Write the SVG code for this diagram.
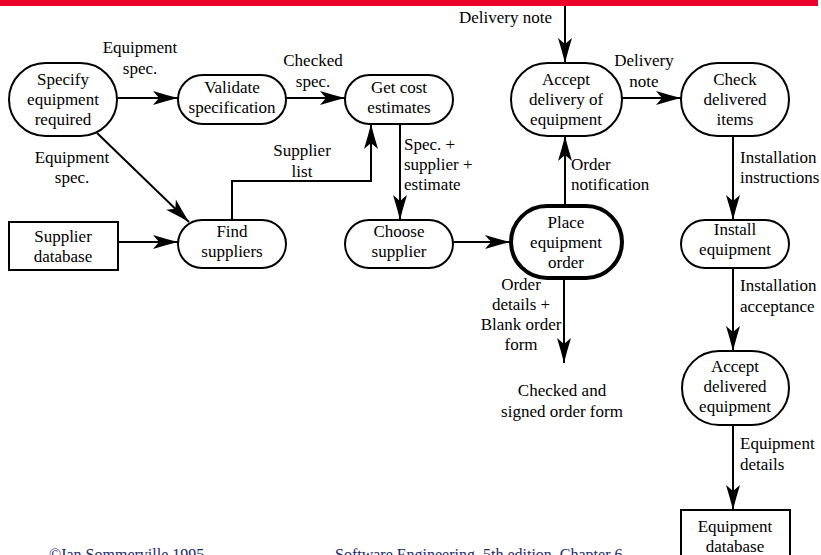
<svg xmlns="http://www.w3.org/2000/svg" width="821" height="555" viewBox="0 0 821 555" font-family="'Liberation Serif', 'DejaVu Serif', serif">
  <style>
    text { font-family: 'Liberation Serif', 'DejaVu Serif', serif; font-size: 17px; fill: #000; }
    .c { text-anchor: middle; }
    .node { fill: #fff; stroke: #000; stroke-width: 2; }
    .main { stroke-width: 4; }
    .flow { fill: none; stroke: #000; stroke-width: 2; marker-end: url(#arrow); }
    .foot { fill: #1c2a6b; font-size: 16px; }
  </style>
  <defs>
    <marker id="arrow" markerUnits="userSpaceOnUse" viewBox="-27 -8 28 16" markerWidth="28" markerHeight="16" refX="0" refY="0" orient="auto">
      <path d="M0,0 Q-12,-3 -25,-7 L-19,0 L-25,7 Q-12,3 0,0 Z" fill="#000"/>
    </marker>
  </defs>

  <rect x="0" y="0" width="818" height="6" fill="#ec0029"/>

  <!-- data flows -->
  <g id="connectors">
    <path class="flow" d="M117,98 H178"/>
    <path class="flow" d="M286,98 H345"/>
    <path class="flow" d="M97,133 L189,222"/>
    <path class="flow" d="M118,242 H178"/>
    <path class="flow" d="M232,220 V181 H371 V124"/>
    <path class="flow" d="M400,124 V220"/>
    <path class="flow" d="M453,242 H510"/>
    <path class="flow" d="M565,205 V136"/>
    <path class="flow" d="M565,6 V63"/>
    <path class="flow" d="M622,98 H681"/>
    <path class="flow" d="M733,136 V220"/>
    <path class="flow" d="M733,268 V351"/>
    <path class="flow" d="M733,425 V510"/>
    <path class="flow" d="M564,278 V363"/>
  </g>

  <!-- flow labels -->
  <g id="labels">
    <text class="c" x="140" y="53">Equipment</text>
    <text class="c" x="140" y="74">spec.</text>
    <text class="c" x="313" y="66">Checked</text>
    <text class="c" x="313" y="87">spec.</text>
    <text class="c" x="72" y="163">Equipment</text>
    <text class="c" x="72" y="183">spec.</text>
    <text class="c" x="302" y="156">Supplier</text>
    <text class="c" x="302" y="177">list</text>
    <text x="404" y="150">Spec. +</text>
    <text x="404" y="170">supplier +</text>
    <text x="404" y="190">estimate</text>
    <text x="459" y="23">Delivery note</text>
    <text class="c" x="644" y="66">Delivery</text>
    <text class="c" x="644" y="87">note</text>
    <text x="571" y="170">Order</text>
    <text x="571" y="190">notification</text>
    <text x="740" y="163">Installation</text>
    <text x="740" y="183">instructions</text>
    <text class="c" x="521" y="290">Order</text>
    <text class="c" x="521" y="310">details +</text>
    <text class="c" x="521" y="330">Blank order</text>
    <text class="c" x="521" y="350">form</text>
    <text x="740" y="291">Installation</text>
    <text x="740" y="312">acceptance</text>
    <text class="c" x="562" y="396">Checked and</text>
    <text class="c" x="562" y="417">signed order form</text>
    <text x="740" y="449">Equipment</text>
    <text x="740" y="470">details</text>
  </g>

  <g id="specify">
    <rect class="node" x="9" y="63" width="108" height="73" rx="36.5"/>
    <text class="c" x="63" y="85">Specify</text>
    <text class="c" x="63" y="105">equipment</text>
    <text class="c" x="63" y="125">required</text>
  </g>
  <g id="validate">
    <rect class="node" x="178" y="75" width="108" height="49" rx="24.5"/>
    <text class="c" x="232" y="93">Validate</text>
    <text class="c" x="232" y="113">specification</text>
  </g>
  <g id="estimates">
    <rect class="node" x="345" y="75" width="108" height="49" rx="24.5"/>
    <text class="c" x="399" y="93">Get cost</text>
    <text class="c" x="399" y="113">estimates</text>
  </g>
  <g id="accept-delivery">
    <rect class="node" x="511" y="63" width="111" height="73" rx="36.5"/>
    <text class="c" x="566" y="85">Accept</text>
    <text class="c" x="566" y="105">delivery of</text>
    <text class="c" x="566" y="125">equipment</text>
  </g>
  <g id="check">
    <rect class="node" x="681" y="63" width="108" height="73" rx="36.5"/>
    <text class="c" x="735" y="85">Check</text>
    <text class="c" x="735" y="105">delivered</text>
    <text class="c" x="735" y="125">items</text>
  </g>
  <g id="supplier-db">
    <rect class="node" x="9" y="222" width="109" height="48"/>
    <text class="c" x="63" y="242">Supplier</text>
    <text class="c" x="63" y="262">database</text>
  </g>
  <g id="find">
    <rect class="node" x="178" y="220" width="108" height="48" rx="24"/>
    <text class="c" x="232" y="237">Find</text>
    <text class="c" x="232" y="257">suppliers</text>
  </g>
  <g id="choose">
    <rect class="node" x="345" y="220" width="108" height="48" rx="24"/>
    <text class="c" x="399" y="237">Choose</text>
    <text class="c" x="399" y="257">supplier</text>
  </g>
  <g id="place-order">
    <rect class="node main" x="511" y="206" width="111" height="72" rx="36"/>
    <text class="c" x="566" y="228">Place</text>
    <text class="c" x="566" y="248">equipment</text>
    <text class="c" x="566" y="268">order</text>
  </g>
  <g id="install">
    <rect class="node" x="681" y="220" width="108" height="48" rx="24"/>
    <text class="c" x="735" y="235">Install</text>
    <text class="c" x="735" y="255">equipment</text>
  </g>
  <g id="accept-delivered">
    <rect class="node" x="682" y="351" width="107" height="74" rx="37"/>
    <text class="c" x="735" y="372">Accept</text>
    <text class="c" x="735" y="392">delivered</text>
    <text class="c" x="735" y="412">equipment</text>
  </g>
  <g id="equipment-db">
    <rect class="node" x="681" y="510" width="109" height="60"/>
    <text class="c" x="735" y="532">Equipment</text>
    <text class="c" x="735" y="552">database</text>
  </g>

  <text class="foot" x="49" y="560">©Ian Sommerville 1995</text>
  <text class="foot" x="335" y="560">Software Engineering, 5th edition. Chapter 6</text>
</svg>
